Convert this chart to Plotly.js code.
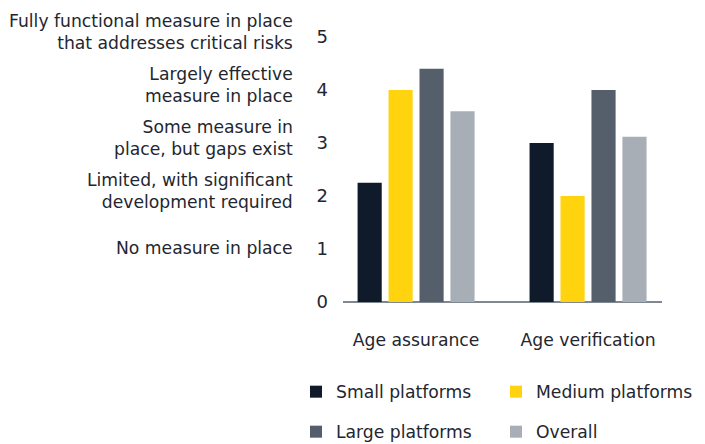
<!DOCTYPE html>
<html>
<head>
<meta charset="utf-8">
<script src="https://cdn.plot.ly/plotly-3.0.1.min.js"></script>
<style>html,body{margin:0;padding:0;background:#fff;}#chart{width:705px;height:444px;}</style>
</head>
<body>
<div id="chart"></div>
<script>
const categories = ["Age assurance", "Age verification"];
const seriesNames = ["Small platforms", "Medium platforms", "Large platforms", "Overall"];
const smallPlatforms = [2.25, 3.0];
const mediumPlatforms = [4.0, 2.0];
const largePlatforms = [4.4, 4.0];
const overall = [3.6, 3.12];
const scaleValues = [1, 2, 3, 4, 5];
const scaleLabels = [
  "No measure in place",
  "Limited, with significant<br>development required",
  "Some measure in<br>place, but gaps exist",
  "Largely effective<br>measure in place",
  "Fully functional measure in place<br>that addresses critical risks"
];
const yTicks = [0, 1, 2, 3, 4, 5];

const colors = ["#0f1a2a", "#ffd30d", "#545f6b", "#a8aeb5"];
const allSeries = [smallPlatforms, mediumPlatforms, largePlatforms, overall];
const legendIds = ["legend", "legend", "legend2", "legend2"];
const FONT = "'DejaVu Sans', sans-serif";
const TXT = "#23262f";
const FS = 17.2;

const traces = allSeries.map((vals, i) => ({
  type: "bar",
  name: seriesNames[i],
  x: categories,
  y: vals,
  marker: {color: colors[i]},
  legend: legendIds[i],
  hoverinfo: "skip"
}));

const plotL = 343, plotT = 37, plotW = 705 - 343 - 43, plotH = 444 - 37 - 142;
const annotations = scaleValues.map((v, i) => ({
  xref: "paper", yref: "y",
  x: -48 / plotW, y: v,
  xanchor: "right", yanchor: "middle",
  yshift: scaleLabels[i].includes("<br>") ? 5 : 1,
  text: scaleLabels[i],
  align: "right",
  showarrow: false,
  font: {family: FONT, size: FS, color: TXT}
}));

const legendCommon = {
  orientation: "h",
  xanchor: "left", yanchor: "middle",
  entrywidth: 155, entrywidthmode: "pixels",
  font: {family: FONT, size: FS, color: TXT},
  bgcolor: "rgba(0,0,0,0)",
  itemclick: false, itemdoubleclick: false
};
const legX = (296 - plotL) / plotW;
const legY1 = (plotT + plotH - 392) / plotH;
const legY2 = (plotT + plotH - 432) / plotH;

const layout = {
  width: 705, height: 444,
  margin: {l: plotL, r: 43, t: plotT, b: 142, pad: 0, autoexpand: false},
  paper_bgcolor: "#fff", plot_bgcolor: "#fff",
  barmode: "group",
  bargap: 0.28,
  bargroupgap: 0.22,
  showlegend: true,
  font: {family: FONT, size: FS, color: TXT},
  xaxis: {
    range: [-0.425, 1.43],
    showgrid: false, zeroline: false,
    showline: false,
    ticks: "", ticklabelstandoff: 26,
    tickfont: {family: FONT, size: FS, color: TXT},
    fixedrange: true
  },
  yaxis: {
    range: [0, 5],
    tickvals: yTicks,
    showgrid: false,
    zeroline: true, zerolinecolor: "#7f8891", zerolinewidth: 2,
    showline: false,
    ticks: "", ticklabelstandoff: 14,
    tickfont: {family: FONT, size: 18, color: TXT},
    fixedrange: true
  },
  legend: Object.assign({}, legendCommon, {x: legX, y: legY1}),
  legend2: Object.assign({}, legendCommon, {x: legX, y: legY2}),
  annotations: annotations
};

Plotly.newPlot("chart", traces, layout, {displayModeBar: false, staticPlot: true});
</script>
</body>
</html>
